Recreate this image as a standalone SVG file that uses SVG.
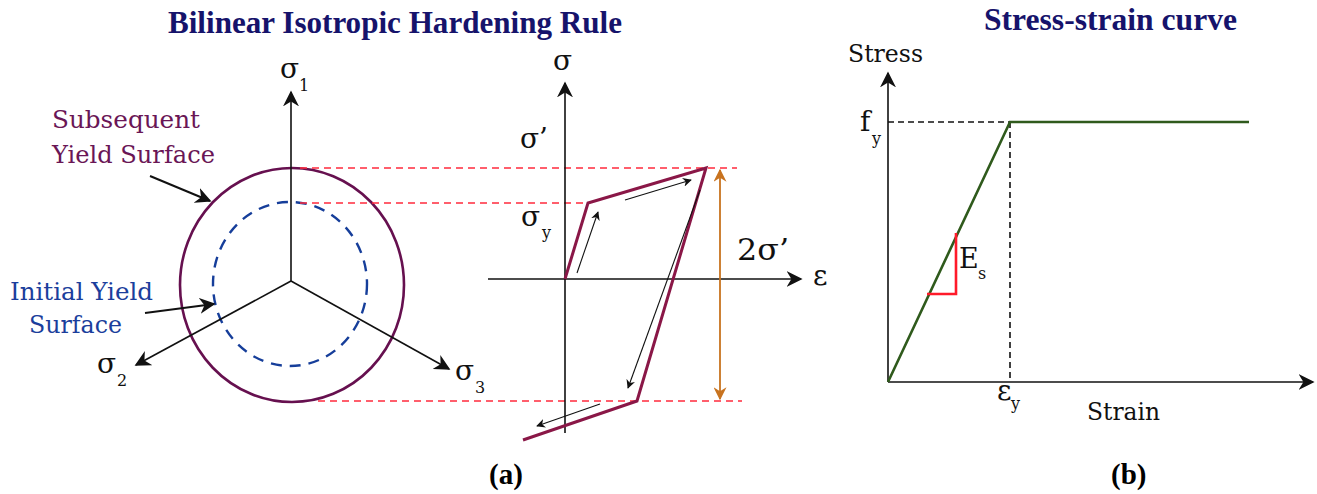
<svg xmlns="http://www.w3.org/2000/svg" width="1317" height="494" viewBox="0 0 1317 494">
<style>
text{font-family:"DejaVu Serif","Liberation Serif",serif;}
.title{font-family:"Liberation Serif","DejaVu Serif",serif;font-weight:bold;fill:#16136b;font-size:31px;}
.lbl{fill:#111;font-size:28px;}
.sub{fill:#111;font-size:16px;}
.ax{stroke:#111;stroke-width:1.6;fill:none;}
.thin{stroke:#111;stroke-width:1.1;fill:none;}
.rd{stroke:#ff2a3c;stroke-width:1.6;stroke-dasharray:7 5;fill:none;}
.bd{stroke:#111;stroke-width:1.6;stroke-dasharray:6 4;fill:none;}
.cap{font-family:"Liberation Serif",serif;font-weight:bold;font-size:29px;fill:#000;}
</style>
<defs>
<marker id="ah" viewBox="0 0 10 10" refX="9" refY="5" markerWidth="16" markerHeight="16" markerUnits="userSpaceOnUse" orient="auto"><path d="M0,0 L10,5 L0,10 L3,5 Z" fill="#111"/></marker>
<marker id="sh" viewBox="0 0 10 10" refX="9" refY="5" markerWidth="9" markerHeight="9" markerUnits="userSpaceOnUse" orient="auto"><path d="M0,0 L10,5 L0,10 L3,5 Z" fill="#111"/></marker>
<marker id="oh" viewBox="0 0 10 10" refX="9" refY="5" markerWidth="13" markerHeight="13" markerUnits="userSpaceOnUse" orient="auto-start-reverse"><path d="M0,0 L10,5 L0,10 L3,5 Z" fill="#c8731f"/></marker>
</defs>

<g id="titles">
<text class="title" x="168" y="33" textLength="454" lengthAdjust="spacingAndGlyphs">Bilinear Isotropic Hardening Rule</text>
<text class="title" x="984" y="30" textLength="253" lengthAdjust="spacingAndGlyphs">Stress-strain curve</text>
</g>

<g id="yield-surfaces">
<ellipse cx="292" cy="285" rx="112" ry="117" fill="none" stroke="#66104f" stroke-width="2.6"/>
<ellipse cx="290" cy="284" rx="77" ry="82" fill="none" stroke="#163e9a" stroke-width="2.4" stroke-dasharray="11 8"/>
</g>

<g id="principal-axes">
<line class="ax" x1="291" y1="281" x2="291" y2="92" marker-end="url(#ah)"/>
<line class="ax" x1="291" y1="281" x2="136" y2="365" marker-end="url(#ah)"/>
<line class="ax" x1="291" y1="281" x2="449" y2="369" marker-end="url(#ah)"/>
<text class="lbl" x="280" y="78">σ</text><text class="sub" x="299" y="91">1</text>
<text class="lbl" x="97" y="373">σ</text><text class="sub" x="117" y="386">2</text>
<text class="lbl" x="455" y="380">σ</text><text class="sub" x="475" y="393">3</text>
</g>

<g id="surface-labels">
<text x="52" y="128" font-size="25" fill="#6a1656" textLength="148" lengthAdjust="spacingAndGlyphs">Subsequent</text>
<text x="52" y="163" font-size="25" fill="#6a1656" textLength="163" lengthAdjust="spacingAndGlyphs">Yield Surface</text>
<text x="10" y="300" font-size="25" fill="#1b3e9c" textLength="143" lengthAdjust="spacingAndGlyphs">Initial Yield</text>
<text x="29" y="333" font-size="25" fill="#1b3e9c" textLength="93" lengthAdjust="spacingAndGlyphs">Surface</text>
</g>

<g id="connectors">
<line x1="150" y1="176" x2="210" y2="201" stroke="#111" stroke-width="2" marker-end="url(#ah)"/>
<line x1="145" y1="313" x2="214" y2="304" stroke="#111" stroke-width="2" marker-end="url(#ah)"/>
<line class="rd" x1="300" y1="168" x2="737" y2="168"/>
<line class="rd" x1="300" y1="203" x2="588" y2="203"/>
<line class="rd" x1="318" y1="401" x2="742" y2="401"/>
</g>

<g id="hysteresis">
<line class="ax" x1="565" y1="433" x2="565" y2="83" marker-end="url(#ah)"/>
<line class="ax" x1="488" y1="279" x2="801" y2="279" marker-end="url(#ah)"/>
<polyline points="565,279 588,203 706,168 637,401 523,440" fill="none" stroke="#8a1747" stroke-width="3" stroke-linejoin="miter"/>
<line class="thin" x1="577" y1="273" x2="598" y2="212" marker-end="url(#sh)"/>
<line class="thin" x1="625" y1="200" x2="691" y2="180" marker-end="url(#sh)"/>
<line class="thin" x1="700" y1="190" x2="628" y2="388" marker-end="url(#sh)"/>
<line class="thin" x1="600" y1="404" x2="537" y2="426" marker-end="url(#sh)"/>
<line x1="720" y1="170" x2="720" y2="399" stroke="#c8731f" stroke-width="1.8" marker-start="url(#oh)" marker-end="url(#oh)"/>
<text class="lbl" x="553" y="70">σ</text>
<text class="lbl" x="520" y="148">σ’</text>
<text class="lbl" x="521" y="226">σ</text><text class="sub" x="542" y="238">y</text>
<text x="737" y="260" font-size="30" fill="#111" textLength="52" lengthAdjust="spacingAndGlyphs">2σ’</text>
<text class="lbl" x="813" y="285">ε</text>
<text class="cap" x="489" y="484">(a)</text>
</g>

<g id="stress-strain">
<line class="ax" x1="888" y1="382" x2="888" y2="73" marker-end="url(#ah)"/>
<line class="ax" x1="888" y1="382" x2="1313" y2="382" marker-end="url(#ah)"/>
<line class="bd" x1="888" y1="122" x2="1010" y2="122"/>
<line class="bd" x1="1010" y1="122" x2="1010" y2="382"/>
<polyline points="888,382 1010,122 1249,122" fill="none" stroke="#2f5a1c" stroke-width="2.6"/>
<polyline points="927,294 956,294 956,233" fill="none" stroke="#ff1a2a" stroke-width="2.6"/>
<text x="848" y="62" font-size="25" fill="#111" textLength="75" lengthAdjust="spacingAndGlyphs">Stress</text>
<text class="lbl" x="860" y="131">f</text><text class="sub" x="872" y="144">y</text>
<text x="959" y="268" font-size="27" fill="#111">E</text><text class="sub" x="978" y="279">s</text>
<text class="lbl" x="997" y="400">ε</text><text class="sub" x="1011" y="409">y</text>
<text x="1087" y="420" font-size="25" fill="#111" textLength="73" lengthAdjust="spacingAndGlyphs">Strain</text>
<text class="cap" x="1111" y="484">(b)</text>
</g>
</svg>
